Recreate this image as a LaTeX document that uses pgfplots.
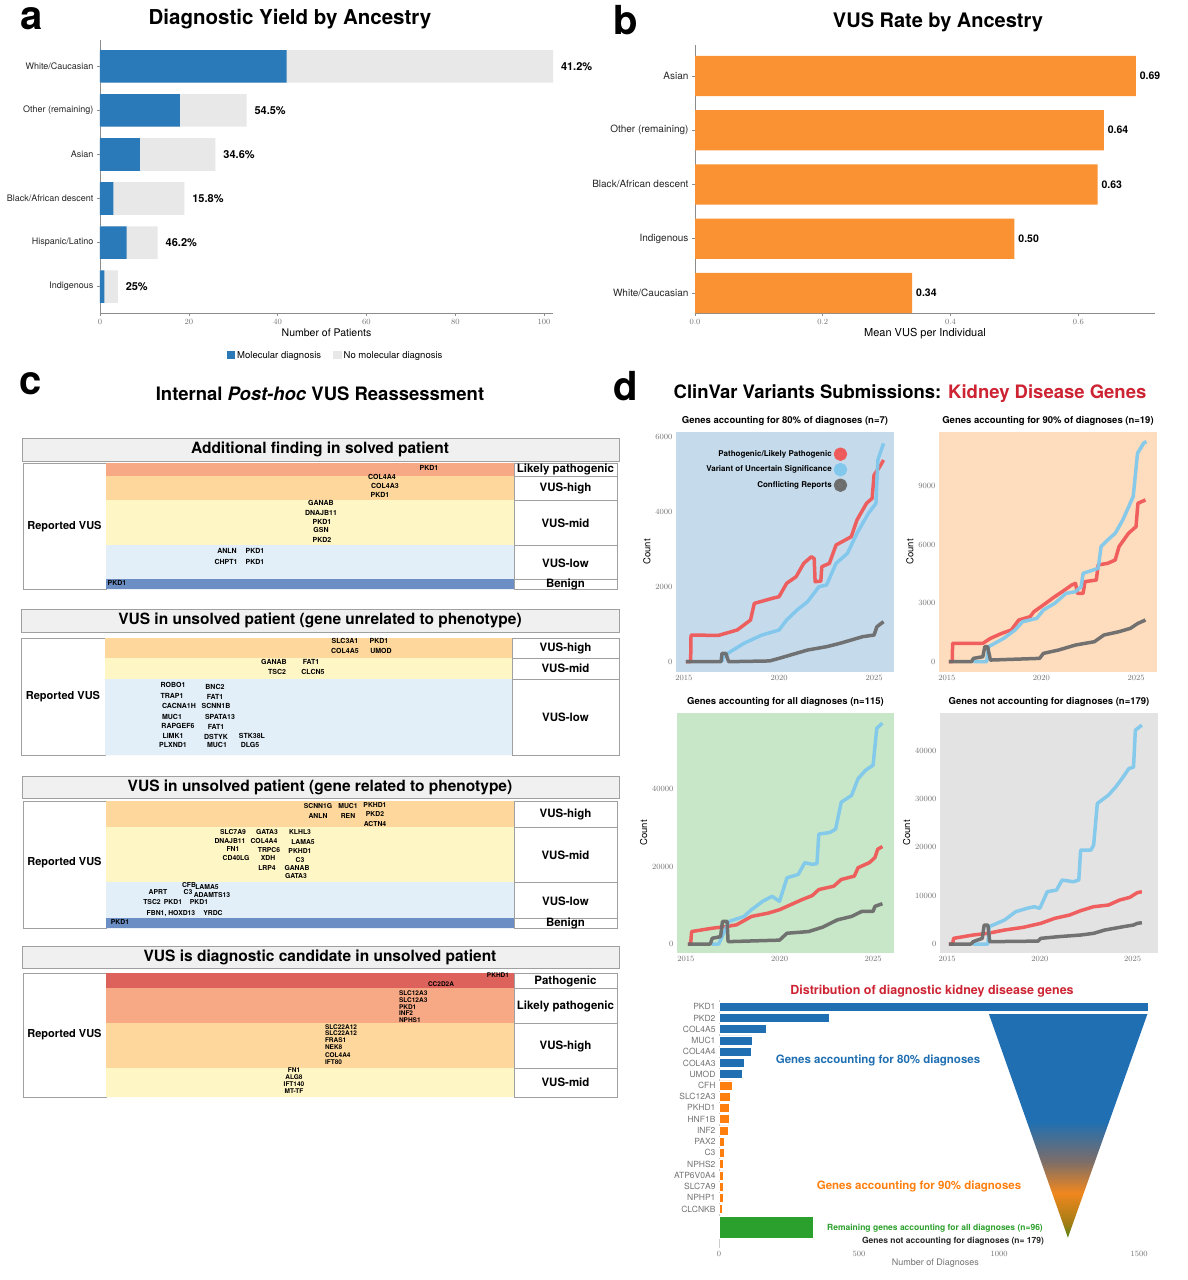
\documentclass[border=0pt]{standalone}
\usepackage{pgfplots}
\pgfplotsset{compat=1.18}
\usepackage{pgfplotstable}
\usepackage{fontspec}
\setmainfont{TeX Gyre Heros}
\setsansfont{TeX Gyre Heros}

\definecolor{molblue}{RGB}{42,122,185}
\definecolor{nogray}{RGB}{232,232,232}
\definecolor{vusorange}{RGB}{250,146,52}
\definecolor{hdrgray}{RGB}{240,240,240}
\definecolor{boxgray}{RGB}{160,160,160}
\definecolor{cLP}{RGB}{247,168,132}
\definecolor{cHigh}{RGB}{253,215,155}
\definecolor{cMid}{RGB}{255,246,198}
\definecolor{cLow}{RGB}{226,239,248}
\definecolor{cBen}{RGB}{107,142,196}
\definecolor{cPath}{RGB}{222,98,92}
\definecolor{titlered}{RGB}{205,35,50}
\definecolor{bgA}{RGB}{197,219,236}
\definecolor{bgB}{RGB}{253,221,190}
\definecolor{bgC}{RGB}{200,231,200}
\definecolor{bgD}{RGB}{227,227,227}
\definecolor{cvred}{RGB}{240,88,88}
\definecolor{cvblue}{RGB}{128,200,236}
\definecolor{cvgray}{RGB}{108,108,108}
\definecolor{fblue}{RGB}{31,111,178}
\definecolor{forange}{RGB}{255,127,14}
\definecolor{fgreen}{RGB}{44,160,44}
\definecolor{sgreen}{RGB}{80,135,20}
\definecolor{solive}{RGB}{160,125,20}
\definecolor{sorange}{RGB}{240,135,30}
\definecolor{sbrown}{RGB}{125,110,105}

\pgfdeclareverticalshading{funnel}{100bp}{color(0bp)=(sgreen); color(25bp)=(sgreen); color(28bp)=(solive); color(35bp)=(sorange); color(42bp)=(sbrown); color(51bp)=(fblue); color(100bp)=(fblue)}

% ---------- data ----------
\pgfplotstableread{
y mol tot pct
5 42 102 41.2\%
4 18 33 54.5\%
3 9 26 34.6\%
2 3 19 15.8\%
1 6 13 46.2\%
0 1 4 25\%
}\dataA

\pgfplotstableread{
y v l
4 0.69 0.69
3 0.64 0.64
2 0.63 0.63
1 0.50 0.50
0 0.34 0.34
}\dataB

\pgfplotstableread{
y v
0 1533
-1 393
-2 168
-3 118
-4 114
-5 90
-6 84
}\dataGblue
\pgfplotstableread{
y v
-7 49
-8 40
-9 38
-10 35
-11 34
-12 20
-13 20
-14 16
-15 16
-16 15
-17 15
-18 13
}\dataGorange
\pgfplotstableread{
y v
-19.6 337
}\dataGgreen

\pgfplotstableread[col sep=semicolon]{
x;y;g
429;469;PKD1
382;478;COL4A4
385;487;COL4A3
380;496;PKD1
321;504;GANAB
321;514;DNAJB11
322;523;PKD1
321;531;GSN
322;541;PKD2
227;552;ANLN
255;552;PKD1
226;563;CHPT1
255;563;PKD1
117;584;PKD1
}\geneA

\pgfplotstableread[col sep=semicolon]{
x;y;g
345;642;SLC3A1
379;642;PKD1
345;652;COL4A5
381;652;UMOD
274;663;GANAB
311;663;FAT1
277;673;TSC2
313;673;CLCN5
173;686;ROBO1
215;688;BNC2
172;697;TRAP1
215;698;FAT1
179;707;CACNA1H
216;707;SCNN1B
172;718;MUC1
220;718;SPATA13
178;727;RAPGEF6
216;728;FAT1
173;737;LIMK1
216;738;DSTYK
252;737;STK38L
173;746;PLXND1
217;746;MUC1
250;746;DLG5
}\geneB

\pgfplotstableread[col sep=semicolon]{
x;y;g
318;807;SCNN1G
348;807;MUC1
375;806;PKHD1
318;817;ANLN
348;817;REN
375;815;PKD2
375;825;ACTN4
233;833;SLC7A9
267;833;GATA3
300;833;KLHL3
230;842;DNAJB11
264;842;COL4A4
303;843;LAMA5
233;850;FN1
269;851;TRPC6
300;852;PKHD1
236;859;CD40LG
268;859;XDH
300;861;C3
267;869;LRP4
297;869;GANAB
296;877;GATA3
189;886;CFB
207;888;LAMA5
158;893;APRT
188;893;C3
212;896;ADAMTS13
152;903;TSC2
173;903;PKD1
199;903;PKD1
171;914;FBN1, HOXD13
213;914;YRDC
120;923;PKD1
}\geneC

\pgfplotstableread[col sep=semicolon]{
x;y;g
498;976;PKHD1
441;985;CC2D2A
294;1071;FN1
294;1078;ALG8
294;1085;IFT140
294;1092;MT-TF
}\geneD

\pgfplotstableread[col sep=semicolon]{
x;y;g
399;994;SLC12A3
399;1001;SLC12A3
399;1008;PKD1
399;1014;INF2
399;1021;NPHS1
325;1028;SLC22A12
325;1034;SLC22A12
325;1041;FRAS1
325;1048;NEK8
325;1056;COL4A4
325;1063;IFT80
}\geneDw

\newcommand{\bx}[5]{\addplot[fill=#5,draw=none,mark=none,forget plot] coordinates {(#1,#2) (#3,#2) (#3,#4) (#1,#4) (#1,#2)};}
\newcommand{\bxb}[5]{\addplot[fill=#5,draw=boxgray,line width=0.8pt,mark=none,forget plot] coordinates {(#1,#2) (#3,#2) (#3,#4) (#1,#4) (#1,#2)};}

\pgfplotsset{
  genes/.style={draw=none, mark=none, forget plot, point meta=explicit symbolic,
    nodes near coords={\makebox[0pt][c]{\raisebox{-0.36em}[0pt][0pt]{\pgfplotspointmeta}}},
    every node near coord/.append style={inner sep=0pt, font=\bfseries\fontsize{#1}{#1}\selectfont}},
  genesw/.style={draw=none, mark=none, forget plot, point meta=explicit symbolic,
    nodes near coords={\makebox[0pt][l]{\raisebox{-0.36em}[0pt][0pt]{\pgfplotspointmeta}}},
    every node near coord/.append style={inner sep=0pt, font=\bfseries\fontsize{#1}{#1}\selectfont}},
  barlab/.style={point meta=explicit symbolic,
    nodes near coords={\makebox[0pt][l]{\raisebox{-0.36em}[0pt][0pt]{\pgfplotspointmeta}}},
    every node near coord/.append style={inner sep=0pt, anchor=center, font=\bfseries\fontsize{#1}{#1}\selectfont, text=black}},
  cv/.style={scale only axis, width=218pt, height=240pt, axis line style={draw=none},
    major tick length=0pt, xtick={2015,2020,2025},
    tick label style={font=\fontsize{8}{8}\selectfont, text=black!55},
    x tick label style={/pgf/number format/1000 sep={}},
    y tick label style={/pgf/number format/1000 sep={}},
    scaled y ticks=false, ylabel={Count},
    ylabel style={font=\fontsize{9.5}{10}\selectfont, yshift=-2pt},
    title style={font=\bfseries\fontsize{9.5}{10}\selectfont, yshift=-3pt},
    every axis plot/.append style={line width=3.5pt, line join=round, mark=none, opacity=0.95}},
}

\tikzset{hdr/.style={font=\bfseries\fontsize{15.5}{16}\selectfont},
  rlab/.style={font=\bfseries\fontsize{11.5}{12}\selectfont},
  rvus/.style={font=\bfseries\fontsize{11}{11}\selectfont}}

\begin{document}
\begin{tikzpicture}
\path[use as bounding box] (0pt,0pt) rectangle (1187pt,-1280pt);
\fill[white] (0pt,0pt) rectangle (1187pt,-1280pt);

% ---------------- panel letters & titles ----------------
\node[font=\bfseries\fontsize{40}{40}\selectfont] at (32pt,-19pt) {a};
\node[font=\bfseries\fontsize{40}{40}\selectfont] at (626pt,-20pt) {b};
\node[font=\bfseries\fontsize{40}{40}\selectfont] at (31pt,-384pt) {c};
\node[font=\bfseries\fontsize{40}{40}\selectfont] at (626pt,-386pt) {d};
\node[font=\bfseries\fontsize{20.5}{21}\selectfont] at (290pt,-19pt) {Diagnostic Yield by Ancestry};
\node[font=\bfseries\fontsize{20}{21}\selectfont] at (938pt,-22pt) {VUS Rate by Ancestry};
\node[font=\bfseries\fontsize{18.5}{19}\selectfont] at (320pt,-394pt) {Internal \textit{Post-hoc} VUS Reassessment};
\node[font=\bfseries\fontsize{18.5}{19}\selectfont] at (910pt,-394pt) {ClinVar Variants Submissions: \textcolor{titlered}{Kidney Disease Genes}};

% ---------------- panel a ----------------
\begin{axis}[at={(100pt,-40pt)}, anchor=north west, scale only axis,
  width=453pt, height=273pt, xmin=0, xmax=102, ymin=-0.6, ymax=5.6,
  xbar, bar width=0.74, bar shift=0pt,
  axis x line*=bottom, axis y line*=left,
  axis line style={-, black!45, line width=0.7pt},
  xtick={0,20,40,60,80,100}, ytick={0,1,2,3,4,5},
  yticklabels={Indigenous,Hispanic/Latino,Black/African descent,Asian,Other (remaining),White/Caucasian},
  tick style={black!45, line width=0.6pt}, major tick length=3pt, tick align=outside,
  yticklabel style={font=\fontsize{9}{9}\selectfont, text=black!85},
  xticklabel style={font=\fontsize{8.5}{9}\selectfont, text=black!55},
  xlabel={Number of Patients}, xlabel style={font=\fontsize{10.5}{11}\selectfont, yshift=3pt},
  legend style={at={(0.52,-0.125)}, anchor=north, draw=none, fill=none,
    font=\fontsize{9.5}{10}\selectfont, legend columns=2,
    /tikz/every even column/.append style={column sep=10pt}},
  reverse legend,
  legend image code/.code={\fill (0cm,-0.12cm) rectangle (0.3cm,0.16cm);}]
\addplot[fill=nogray, draw=none, bar shift=0pt, nodes near coords, barlab=11,
  every node near coord/.append style={xshift=8pt}]
  table[x=tot,y=y,meta=pct]{\dataA};
\addlegendentry{No molecular diagnosis}
\addplot[fill=molblue, draw=none, bar shift=0pt] table[x=mol,y=y]{\dataA};
\addlegendentry{Molecular diagnosis}
\end{axis}

% ---------------- panel b ----------------
\begin{axis}[at={(695pt,-45pt)}, anchor=north west, scale only axis,
  width=460pt, height=268pt, xmin=0, xmax=0.72, ymin=-0.37, ymax=4.57,
  xbar, bar width=0.74, bar shift=0pt,
  axis x line*=bottom, axis y line*=left,
  axis line style={-, black!45, line width=0.7pt},
  xtick={0,0.2,0.4,0.6}, ytick={0,1,2,3,4},
  yticklabels={White/Caucasian,Indigenous,Black/African descent,Other (remaining),Asian},
  x tick label style={/pgf/number format/fixed, /pgf/number format/fixed zerofill, /pgf/number format/precision=1},
  tick style={black!45, line width=0.6pt}, major tick length=3pt, tick align=outside,
  yticklabel style={font=\fontsize{10}{10}\selectfont, text=black!85},
  xticklabel style={font=\fontsize{8.5}{9}\selectfont, text=black!55},
  xlabel={Mean VUS per Individual}, xlabel style={font=\fontsize{11}{11}\selectfont, yshift=3pt}]
\addplot[fill=vusorange, draw=none, bar shift=0pt, nodes near coords, barlab=10.5,
  every node near coord/.append style={xshift=4pt}]
  table[x=v,y=y,meta=l]{\dataB};
\end{axis}

% ---------------- panel c ----------------
\begin{axis}[at={(0pt,-370pt)}, anchor=north west, scale only axis,
  width=620pt, height=740pt, xmin=0, xmax=620, ymin=370, ymax=1110,
  y dir=reverse, hide axis, clip=false]
% section 1
\bxb{22}{438}{619}{461}{hdrgray}
\bxb{23}{463}{106}{589}{white}
\bx{106}{463}{514}{476}{cLP}
\bx{106}{476}{514}{500}{cHigh}
\bx{106}{500}{514}{545}{cMid}
\bx{106}{545}{514}{579}{cLow}
\bx{106}{579}{514}{589}{cBen}
\bxb{514}{463}{617}{476}{white}
\bxb{514}{476}{617}{500}{white}
\bxb{514}{500}{617}{545}{white}
\bxb{514}{545}{617}{579}{white}
\bxb{514}{579}{617}{589}{white}
\addplot[genes=7] table[x=x,y=y,meta=g]{\geneA};
\node[hdr] at (axis cs:320,449.5) {Additional finding in solved patient};
\node[rvus] at (axis cs:64.5,527) {Reported VUS};
\node[rlab] at (axis cs:565.5,469.5) {Likely pathogenic};
\node[rlab] at (axis cs:565.5,488) {VUS-high};
\node[rlab] at (axis cs:565.5,523) {VUS-mid};
\node[rlab] at (axis cs:565.5,563) {VUS-low};
\node[rlab] at (axis cs:565.5,584) {Benign};
% section 2
\bxb{21}{609}{619}{632}{hdrgray}
\bxb{21}{638}{105}{755}{white}
\bx{105}{638}{512}{658}{cHigh}
\bx{105}{658}{512}{679}{cMid}
\bx{105}{679}{512}{755}{cLow}
\bxb{512}{638}{619}{658}{white}
\bxb{512}{658}{619}{679}{white}
\bxb{512}{679}{619}{755}{white}
\addplot[genes=7] table[x=x,y=y,meta=g]{\geneB};
\node[hdr] at (axis cs:320,620.5) {VUS in unsolved patient (gene unrelated to phenotype)};
\node[rvus] at (axis cs:63,697) {Reported VUS};
\node[rlab] at (axis cs:565.5,648) {VUS-high};
\node[rlab] at (axis cs:565.5,668.5) {VUS-mid};
\node[rlab] at (axis cs:565.5,717) {VUS-low};
% section 3
\bxb{22}{776}{619}{798}{hdrgray}
\bxb{23}{801}{106}{928}{white}
\bx{106}{801}{514}{827}{cHigh}
\bx{106}{827}{514}{882}{cMid}
\bx{106}{882}{514}{918}{cLow}
\bx{106}{918}{514}{928}{cBen}
\bxb{514}{801}{617}{827}{white}
\bxb{514}{827}{617}{882}{white}
\bxb{514}{882}{617}{918}{white}
\bxb{514}{918}{617}{928}{white}
\addplot[genes=6.8] table[x=x,y=y,meta=g]{\geneC};
\node[hdr] at (axis cs:320,787) {VUS in unsolved patient (gene related to phenotype)};
\node[rvus] at (axis cs:64.5,863) {Reported VUS};
\node[rlab] at (axis cs:565.5,814) {VUS-high};
\node[rlab] at (axis cs:565.5,855) {VUS-mid};
\node[rlab] at (axis cs:565.5,901) {VUS-low};
\node[rlab] at (axis cs:565.5,923) {Benign};
% section 4
\bxb{22}{946}{619}{968}{hdrgray}
\bxb{23}{973}{106}{1097}{white}
\bx{106}{973}{514}{988}{cPath}
\bx{106}{988}{514}{1023}{cLP}
\bx{106}{1023}{514}{1068}{cHigh}
\bx{106}{1068}{514}{1097}{cMid}
\bxb{514}{973}{617}{988}{white}
\bxb{514}{988}{617}{1023}{white}
\bxb{514}{1023}{617}{1068}{white}
\bxb{514}{1068}{617}{1097}{white}
\addplot[genes=6.5] table[x=x,y=y,meta=g]{\geneD};
\addplot[genesw=6.5] table[x=x,y=y,meta=g]{\geneDw};
\node[hdr] at (axis cs:320,957) {VUS is diagnostic candidate in unsolved patient};
\node[rvus] at (axis cs:64.5,1035) {Reported VUS};
\node[rlab] at (axis cs:565.5,981) {Pathogenic};
\node[rlab] at (axis cs:565.5,1006) {Likely pathogenic};
\node[rlab] at (axis cs:565.5,1046) {VUS-high};
\node[rlab] at (axis cs:565.5,1082) {VUS-mid};
\end{axis}

% ---------------- panel d : ClinVar subplots ----------------
\begin{axis}[cv, at={(676pt,-432pt)}, anchor=north west,
  xmin=2014.58, xmax=2026.05, ymin=-275, ymax=6125, ytick={0,2000,4000,6000},
  axis background/.style={fill=bgA},
  title={Genes accounting for 80\% of diagnoses (n=7)},
  legend style={at={(0.8,0.945)}, anchor=north east, draw=none, fill=none,
    font=\bfseries\fontsize{8}{8}\selectfont, row sep=2pt},
  legend cell align=right, legend plot pos=right,
  legend image code/.code={\fill (0.12cm,0cm) circle (5pt);}]
\addplot[cvred] coordinates {(2015.1,0) (2015.35,0) (2015.37,711) (2016.8,700) (2017.8,845) (2018.5,1111) (2018.7,1555) (2019.65,1690) (2020.0,1733) (2020.4,2090) (2020.9,2267) (2021.3,2622) (2021.7,2800) (2021.85,2750) (2021.9,2133) (2022.2,2150) (2022.25,2533) (2022.65,2622) (2023.0,3111) (2023.8,3333) (2024.1,3778) (2024.6,4222) (2024.9,4356) (2025.0,4978) (2025.3,5200) (2025.5,5378)};
\addlegendentry{Pathogenic/Likely Pathogenic}
\addplot[cvblue] coordinates {(2017.0,0) (2017.05,100) (2017.3,222) (2018.15,489) (2019.1,711) (2020.0,844) (2020.4,1111) (2020.95,1378) (2021.5,1600) (2022.1,2000) (2022.5,2044) (2023.0,2622) (2023.6,2889) (2024.1,3422) (2024.7,3956) (2025.1,4222) (2025.2,5378) (2025.5,5822)};
\addlegendentry{Variant of Uncertain Significance}
\addplot[cvgray] coordinates {(2015.1,0) (2016.95,0) (2017.0,222) (2017.2,222) (2017.35,0) (2019.5,20) (2020.0,89) (2020.6,178) (2021.5,311) (2022.5,400) (2023.2,489) (2023.8,578) (2024.4,667) (2025.0,711) (2025.15,933) (2025.5,1067)};
\addlegendentry{Conflicting Reports}
\end{axis}

\begin{axis}[cv, at={(939pt,-432pt)}, anchor=north west,
  xmin=2014.58, xmax=2026.11, ymin=-527, ymax=11759, ytick={0,3000,6000,9000},
  axis background/.style={fill=bgB},
  title={Genes accounting for 90\% of diagnoses (n=19)}]
\addplot[cvred] coordinates {(2015.1,0) (2015.28,0) (2015.3,939) (2016.9,940) (2017.3,1195) (2017.9,1451) (2018.4,1622) (2018.8,2134) (2019.4,2305) (2019.6,2561) (2020.1,2903) (2020.7,3330) (2021.1,3586) (2021.6,3927) (2021.8,4012) (2021.9,3500) (2022.2,3500) (2022.3,4098) (2022.9,4183) (2023.0,4952) (2023.5,5037) (2023.9,5208) (2024.1,5891) (2024.6,6574) (2025.0,6915) (2025.1,8110) (2025.5,8281)};
\addplot[cvblue] coordinates {(2016.4,0) (2017.1,0) (2017.2,768) (2018.0,1195) (2018.6,1622) (2019.0,2049) (2019.75,2220) (2020.1,2646) (2020.7,2988) (2021.3,3500) (2021.8,3586) (2022.1,3842) (2022.2,4525) (2023.0,4781) (2023.15,5891) (2023.5,6232) (2023.9,6574) (2024.3,7257) (2024.85,8452) (2025.08,10672) (2025.4,11184) (2025.55,11270)};
\addplot[cvgray] coordinates {(2015.1,0) (2016.3,0) (2016.4,171) (2016.9,256) (2017.0,768) (2017.15,768) (2017.3,85) (2019.9,171) (2020.1,427) (2020.9,597) (2021.8,854) (2022.8,1025) (2023.3,1366) (2024.1,1537) (2024.7,1707) (2025.1,1963) (2025.5,2134)};
\end{axis}

\begin{axis}[cv, at={(677pt,-713pt)}, anchor=north west, width=217pt,
  xmin=2014.52, xmax=2026.12, ymin=-2329, ymax=59767, ytick={0,20000,40000},
  axis background/.style={fill=bgC},
  title={Genes accounting for all diagnoses (n=115)}]
\addplot[cvred] coordinates {(2015.1,0) (2015.25,0) (2015.3,3217) (2016.4,4087) (2017.15,4522) (2017.7,4957) (2018.5,7130) (2019.4,8000) (2020.0,8870) (2020.6,10174) (2021.2,11478) (2021.75,12522) (2022.1,14087) (2022.9,14957) (2023.3,16696) (2024.0,17565) (2024.2,19739) (2024.8,21043) (2025.1,22348) (2025.25,24522) (2025.5,25217)};
\addplot[cvblue] coordinates {(2016.4,0) (2016.75,0) (2017.3,5826) (2018.1,7130) (2018.5,8870) (2019.1,11043) (2019.6,12348) (2020.0,11043) (2020.4,17130) (2021.0,18000) (2021.35,21043) (2021.75,20609) (2022.0,20800) (2022.1,28435) (2022.7,28870) (2023.0,29740) (2023.3,36700) (2023.85,38435) (2024.2,42783) (2024.6,44957) (2025.0,46261) (2025.2,55826) (2025.5,57130)};
\addplot[cvgray] coordinates {(2015.1,0) (2016.3,0) (2016.4,1478) (2016.85,1913) (2016.95,5826) (2017.2,5826) (2017.25,609) (2020.0,1000) (2020.4,2783) (2021.55,3217) (2022.3,4348) (2023.1,6261) (2023.85,7130) (2024.4,8435) (2025.0,8435) (2025.1,9739) (2025.5,10435)};
\end{axis}

\begin{axis}[cv, at={(940pt,-713pt)}, anchor=north west,
  xmin=2014.62, xmax=2026.37, ymin=-1863, ymax=47826, ytick={0,10000,20000,30000,40000},
  axis background/.style={fill=bgD},
  title={Genes not accounting for diagnoses (n=179)}]
\addplot[cvred] coordinates {(2015.1,0) (2015.3,0) (2015.35,1172) (2016.4,1862) (2017.2,2207) (2018.1,2897) (2019.1,3448) (2020.05,4276) (2020.8,5310) (2021.6,6000) (2022.2,6897) (2022.9,7724) (2023.7,8069) (2024.3,9103) (2024.85,9655) (2025.25,10621) (2025.5,10828)};
\addplot[cvblue] coordinates {(2016.4,0) (2017.2,0) (2017.27,3586) (2018.1,4966) (2018.7,6690) (2019.3,7379) (2019.7,7724) (2020.0,7379) (2020.4,10828) (2020.9,11172) (2021.2,13241) (2021.8,12897) (2022.1,13241) (2022.2,19448) (2022.75,19448) (2022.9,20483) (2023.1,29103) (2023.7,30828) (2024.1,32552) (2024.5,34620) (2024.8,36345) (2025.05,36600) (2025.15,44276) (2025.5,45310)};
\addplot[cvgray] coordinates {(2015.1,0) (2016.3,0) (2016.4,483) (2016.9,1172) (2017.0,3931) (2017.2,3931) (2017.3,483) (2019.9,600) (2020.05,1172) (2021.0,1517) (2022.2,1862) (2022.9,2207) (2023.5,2897) (2024.5,3586) (2025.05,3931) (2025.25,4276) (2025.5,4414)};
\end{axis}

% ---------------- panel d : distribution ----------------
\node[font=\bfseries\fontsize{12.5}{13}\selectfont, text=titlered] at (932pt,-991pt) {Distribution of diagnostic kidney disease genes};
\begin{axis}[at={(719pt,-1000pt)}, anchor=north west, scale only axis,
  width=432.6pt, height=248pt, xmin=0, xmax=1545, ymin=-21.47, ymax=0.6,
  axis x line*=bottom, axis y line*=left,
  x axis line style={draw=none}, y axis line style={-, black!20, line width=0.6pt},
  ytick={-18,-17,...,0},
  yticklabels={CLCNKB,NPHP1,SLC7A9,ATP6V0A4,NPHS2,C3,PAX2,INF2,HNF1B,PKHD1,SLC12A3,CFH,UMOD,COL4A3,COL4A4,MUC1,COL4A5,PKD2,PKD1},
  xtick={0,500,1000,1500}, major tick length=0pt,
  tick label style={font=\fontsize{8.5}{9}\selectfont, text=black!55},
  x tick label style={/pgf/number format/1000 sep={}},
  xlabel={Number of Diagnoses}, xlabel style={font=\fontsize{9}{9}\selectfont, text=black!55, yshift=5pt},
  clip=false]
\addplot[xbar, fill=fblue, draw=white, line width=0.5pt, bar width=0.8, bar shift=0pt] table[x=v,y=y]{\dataGblue};
\addplot[xbar, fill=forange, draw=white, line width=0.5pt, bar width=0.8, bar shift=0pt] table[x=v,y=y]{\dataGorange};
\addplot[xbar, fill=fgreen, draw=white, line width=0.5pt, bar width=2.0, bar shift=0pt] table[x=v,y=y]{\dataGgreen};
\addplot[shading=funnel, draw=none, mark=none] coordinates {(964,-0.65) (1530,-0.65) (1246,-20.55) (964,-0.65)};
\end{axis}
\node[font=\bfseries\fontsize{11.5}{12}\selectfont, text=fblue] at (878pt,-1060pt) {Genes accounting for 80\% diagnoses};
\node[font=\bfseries\fontsize{11.5}{12}\selectfont, text=forange] at (919pt,-1186pt) {Genes accounting for 90\% diagnoses};
\node[font=\bfseries\fontsize{8.5}{9}\selectfont, text=fgreen] at (935pt,-1228pt) {Remaining genes accounting for all diagnoses (n=96)};
\node[font=\bfseries\fontsize{8.5}{9}\selectfont, text=black!85] at (953pt,-1241pt) {Genes not accounting for diagnoses (n= 179)};

\end{tikzpicture}
\end{document}
